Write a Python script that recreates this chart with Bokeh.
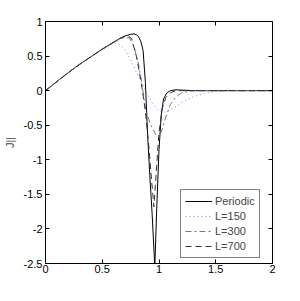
from bokeh.plotting import figure
from bokeh.models import FixedTicker, LinearAxis, Legend, LegendItem, Label
from bokeh.embed import file_html
from bokeh.resources import INLINE

# ---- data ----
x_per = [0, 0.1, 0.2, 0.3, 0.4, 0.5, 0.6, 0.65, 0.7, 0.75, 0.78, 0.8, 0.82, 0.84, 0.86, 0.88,
         0.9, 0.92, 0.94, 0.963, 0.98, 1.0, 1.02, 1.04, 1.07, 1.1, 1.15, 1.2, 1.3, 2.0]
y_per = [0, 0.13, 0.26, 0.38, 0.49, 0.6, 0.7, 0.75, 0.79, 0.815, 0.82, 0.81, 0.78, 0.71, 0.58, 0.12,
         -0.65, -1.25, -1.8, -2.55, -1.7, -0.85, -0.35, -0.12, -0.03, 0.0, 0.012, 0.008, 0.0, 0.0]

x_150 = [0, 0.1, 0.2, 0.3, 0.4, 0.45, 0.5, 0.55, 0.6, 0.65, 0.7, 0.75, 0.8, 0.85, 0.9, 0.95,
         1.0, 1.05, 1.1, 1.15, 1.2, 1.3, 1.4, 1.5, 1.6, 2.0]
y_150 = [0, 0.13, 0.26, 0.38, 0.49, 0.54, 0.59, 0.64, 0.68, 0.67, 0.59, 0.44, 0.27, 0.1, -0.06, -0.2,
         -0.29, -0.31, -0.28, -0.23, -0.17, -0.09, -0.04, -0.01, 0.0, 0.0]

x_300 = [0, 0.1, 0.2, 0.3, 0.4, 0.5, 0.6, 0.65, 0.7, 0.74, 0.78, 0.82, 0.85, 0.88, 0.91, 0.94,
         0.97, 1.0, 1.03, 1.06, 1.1, 1.15, 1.2, 1.3, 2.0]
y_300 = [0, 0.13, 0.26, 0.38, 0.49, 0.6, 0.7, 0.74, 0.77, 0.76, 0.64, 0.38, 0.1, -0.25, -0.42, -0.54,
         -0.63, -0.68, -0.55, -0.38, -0.2, -0.09, -0.03, 0.0, 0.0]

x_700 = [0, 0.1, 0.2, 0.3, 0.4, 0.5, 0.6, 0.65, 0.7, 0.73, 0.76, 0.8, 0.84, 0.88, 0.91, 0.935,
         0.955, 0.975, 1.0, 1.03, 1.06, 1.1, 1.15, 1.2, 1.3, 2.0]
y_700 = [0, 0.13, 0.26, 0.38, 0.49, 0.6, 0.7, 0.75, 0.785, 0.79, 0.75, 0.5, 0.15, -0.3, -0.8, -1.3,
         -1.68, -1.2, -0.6, -0.25, -0.1, -0.03, 0.0, 0.0, 0.0, 0.0]

x_ticks = [0, 0.5, 1, 1.5, 2]
x_tick_labels = ["0", "0.5", "1", "1.5", "2"]
y_ticks = [-2.5, -2, -1.5, -1, -0.5, 0, 0.5, 1]
y_tick_labels = ["-2.5", "-2", "-1.5", "-1", "-0.5", "0", "0.5", "1"]
series_labels = ["Periodic", "L=150", "L=300", "L=700"]

FONT = "Liberation Sans"
FS = "11px"

p = figure(frame_width=227, frame_height=242, x_range=(0, 2), y_range=(-2.5, 1),
           output_backend="svg", toolbar_location=None,
           min_border_left=45, min_border_right=12, min_border_top=21, min_border_bottom=22)
p.background_fill_color = "white"
p.border_fill_color = "white"
p.outline_line_color = "black"
p.xgrid.visible = False
p.ygrid.visible = False

r_per = p.line(x_per, y_per, line_color="black", line_width=1)
r_150 = p.line(x_150, y_150, line_color="#7f7fff", line_width=1, line_dash="1 3")
r_300 = p.line(x_300, y_300, line_color="#777777", line_width=1, line_dash="6 3 2 3")
r_700 = p.line(x_700, y_700, line_color="#333333", line_width=1, line_dash="6 4")

def style_axis(ax, ticks, labels, show_labels=True):
    ax.ticker = FixedTicker(ticks=ticks)
    ax.major_label_overrides = {t: l for t, l in zip(ticks, labels)}
    ax.minor_tick_line_color = None
    ax.major_tick_in = 4
    ax.major_tick_out = 0
    ax.axis_line_color = "black"
    ax.major_tick_line_color = "black"
    ax.major_label_text_font = FONT
    ax.major_label_text_font_size = FS
    ax.major_label_text_color = "black" if show_labels else None
    ax.major_label_standoff = 3

style_axis(p.xaxis[0], x_ticks, x_tick_labels)
style_axis(p.yaxis[0], y_ticks, y_tick_labels)
p.xaxis[0].major_label_standoff = 1
p.yaxis[0].axis_label = "J||"
p.yaxis[0].axis_label_text_font = FONT
p.yaxis[0].axis_label_text_font_size = FS
p.yaxis[0].axis_label_text_font_style = "normal"
p.yaxis[0].axis_label_standoff = 5

# x-axis label placed just under the tick labels
p.add_layout(Label(x=1, y=-2.5, y_offset=-17, text="r", text_font=FONT, text_font_size="10px",
                   text_align="center", text_baseline="alphabetic", text_color="black"))

top = LinearAxis()
right = LinearAxis()
style_axis(top, x_ticks, [""] * len(x_ticks), show_labels=False)
style_axis(right, y_ticks, [""] * len(y_ticks), show_labels=False)
top.major_label_text_font_size = "0px"
right.major_label_text_font_size = "0px"
top.major_label_standoff = 0
right.major_label_standoff = 0
p.add_layout(top, "above")
p.add_layout(right, "right")

legend = Legend(items=[LegendItem(label=series_labels[0], renderers=[r_per]),
                       LegendItem(label=series_labels[1], renderers=[r_150]),
                       LegendItem(label=series_labels[2], renderers=[r_300]),
                       LegendItem(label=series_labels[3], renderers=[r_700])],
                location=(135, 5))
legend.label_text_font = FONT
legend.label_text_font_size = FS
legend.label_height = 14
legend.glyph_height = 14
legend.glyph_width = 27
legend.label_standoff = 3
legend.spacing = 1
legend.padding = 4
legend.margin = 0
legend.border_line_color = "black"
legend.border_line_width = 1
legend.background_fill_color = "white"
legend.background_fill_alpha = 1
p.add_layout(legend, "center")

open("out.html", "w").write(file_html(p, INLINE))
